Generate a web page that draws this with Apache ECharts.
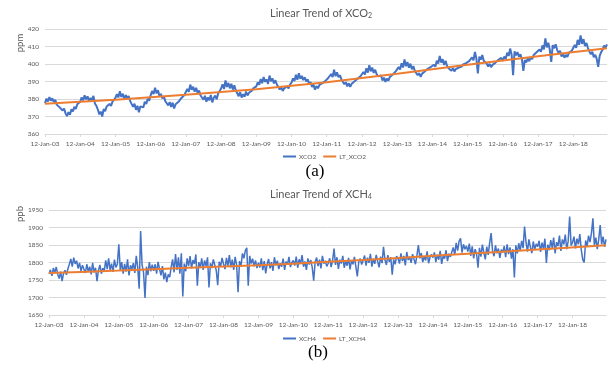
<!DOCTYPE html>
<html>
<head>
<meta charset="utf-8">
<script src="https://cdn.jsdelivr.net/npm/echarts@6/dist/echarts.min.js"></script>
<style>
html,body{margin:0;padding:0;background:#fff;}
#chart{width:614px;height:369px;}
</style>
</head>
<body>
<div id="chart"></div>
<script>
// tick labels (one per year, 24 samples per year)
const yearLabels = ['12-Jan-03','12-Jan-04','12-Jan-05','12-Jan-06','12-Jan-07','12-Jan-08','12-Jan-09','12-Jan-10',
  '12-Jan-11','12-Jan-12','12-Jan-13','12-Jan-14','12-Jan-15','12-Jan-16','12-Jan-17','12-Jan-18'];
const perYear = 24;

// XCO2 (ppm), half-monthly samples
const xco2 = [
377.5,380.2,378.6,381.1,379.0,380.4,378.2,379.5,376.8,377.9,375.2,376.0,373.4,374.6,371.8,370.2,372.5,371.0,374.1,372.9,375.6,374.3,377.0,376.2,
378.4,380.9,379.2,382.1,379.8,381.5,378.7,380.6,379.3,381.8,377.4,376.1,374.0,371.2,372.8,370.0,374.3,373.1,375.7,374.6,377.2,376.0,378.5,377.4,
380.6,382.8,380.9,384.4,381.2,383.0,379.8,382.3,380.5,381.7,378.9,377.2,375.6,377.3,373.8,376.1,372.4,375.8,376.9,375.2,378.4,377.1,380.2,379.0,
382.1,384.6,382.8,386.5,383.2,385.0,381.6,382.9,380.3,381.5,378.7,379.6,376.4,378.2,375.5,377.9,374.6,377.0,376.2,378.4,379.1,380.6,380.0,382.3,
383.4,385.8,384.1,388.2,385.3,387.0,384.2,386.4,383.5,384.8,382.0,383.1,379.6,381.8,378.4,380.9,379.2,382.3,378.1,380.7,381.9,379.8,383.2,384.5,
386.0,388.4,385.7,390.6,386.9,389.2,386.1,388.7,385.4,387.8,385.0,384.1,381.6,383.9,380.8,382.7,381.3,384.2,382.0,383.6,382.9,384.8,386.1,385.3,
387.2,389.5,388.1,391.4,389.0,392.6,389.8,391.2,388.6,393.4,390.1,391.8,388.9,390.7,388.3,387.0,385.4,386.8,384.6,386.1,385.2,387.3,386.0,388.2,
389.4,391.8,390.2,393.9,391.0,394.7,391.6,393.2,390.8,392.4,390.0,391.3,388.5,389.7,386.9,388.2,385.3,387.4,386.1,388.0,387.2,389.1,388.4,390.2,
389.8,392.0,391.1,394.3,392.5,396.8,393.0,395.2,392.4,393.6,391.2,390.1,388.4,389.6,387.2,389.0,386.9,388.7,387.8,390.2,389.5,391.6,390.8,393.0,
392.8,395.4,394.0,397.6,395.1,399.3,395.8,398.0,394.9,396.7,394.2,393.0,392.1,393.4,390.6,392.2,389.8,391.7,390.4,392.6,391.9,394.0,393.5,395.8,
395.6,398.2,396.9,400.4,398.0,402.6,398.7,401.1,397.9,400.2,397.0,398.8,396.1,395.0,393.6,394.8,392.7,394.5,393.8,395.9,395.2,397.4,396.6,398.3,
397.5,399.6,398.4,401.9,400.2,404.6,400.8,402.7,399.5,401.8,398.9,397.6,398.4,396.2,397.7,395.8,397.1,396.4,398.0,396.9,398.6,399.8,399.1,400.5,
399.4,401.6,400.5,403.8,402.1,406.9,403.0,394.6,404.2,402.5,405.1,401.8,402.6,400.3,398.6,400.1,398.2,399.5,398.9,400.8,400.0,402.4,401.6,403.5,
401.8,404.2,403.0,406.5,404.6,408.8,405.3,393.6,407.2,405.0,406.8,404.1,405.5,402.8,396.1,402.3,400.9,403.2,401.6,403.9,402.7,405.1,404.4,406.7,
405.8,408.3,407.0,410.6,408.4,414.6,409.5,412.1,408.2,401.2,410.8,409.0,411.3,408.1,406.2,407.5,404.3,406.1,403.6,405.2,404.0,406.4,405.3,407.6,
408.4,410.9,409.2,413.8,411.0,416.3,411.5,414.2,410.3,412.0,409.1,407.2,405.6,407.0,403.8,405.3,402.9,398.4,404.6,406.8,408.1,410.6,409.3,411.2
];

// XCH4 (ppb), half-monthly samples
const xch4 = [
1768,1779,1762,1784,1771,1787,1766,1754,1774,1747,1769,1778,1765,1782,1795,1810,1788,1814,1796,1805,1783,1799,1776,1792,
1781,1770,1795,1774,1788,1766,1799,1772,1785,1747,1778,1793,1768,1784,1776,1806,1781,1812,1778,1797,1773,1808,1786,1795,
1852,1779,1801,1768,1796,1774,1809,1763,1792,1781,1798,1770,1819,1786,1725,1890,1793,1772,1699,1788,1764,1801,1775,1794,
1776,1795,1768,1802,1781,1763,1790,1752,1771,1744,1766,1758,1787,1809,1772,1824,1779,1815,1768,1826,1703,1797,1775,1812,
1790,1818,1783,1807,1796,1823,1734,1801,1785,1812,1779,1806,1790,1815,1729,1798,1784,1809,1793,1778,1735,1802,1788,1813,
1796,1781,1813,1790,1821,1786,1808,1779,1816,1793,1715,1804,1788,1826,1812,1834,1842,1734,1819,1797,1811,1789,1806,1784,
1799,1786,1812,1778,1804,1769,1795,1810,1783,1801,1776,1815,1792,1805,1781,1798,1788,1811,1779,1803,1794,1816,1787,1800,
1806,1791,1817,1785,1809,1796,1821,1788,1803,1779,1812,1794,1807,1786,1748,1801,1814,1790,1808,1783,1819,1797,1805,1789,
1798,1812,1787,1806,1840,1793,1815,1782,1808,1797,1819,1785,1804,1791,1813,1780,1806,1795,1816,1788,1760,1802,1811,1794,
1805,1820,1791,1814,1799,1825,1788,1810,1796,1822,1803,1786,1817,1798,1845,1808,1793,1821,1802,1815,1765,1809,1795,1818,
1811,1797,1826,1804,1819,1792,1830,1807,1816,1799,1824,1809,1795,1821,1850,1812,1827,1801,1818,1806,1832,1798,1815,1823,
1814,1829,1801,1822,1808,1833,1796,1819,1811,1835,1804,1825,1816,1830,1843,1822,1856,1834,1861,1869,1828,1852,1838,1847,
1831,1854,1819,1846,1812,1838,1825,1785,1842,1817,1851,1828,1809,1845,1822,1856,1884,1833,1818,1849,1826,1840,1813,1837,
1829,1847,1815,1852,1824,1843,1811,1838,1757,1849,1826,1855,1834,1862,1841,1903,1858,1831,1866,1844,1827,1860,1837,1853,
1845,1862,1830,1857,1839,1868,1799,1851,1835,1864,1842,1871,1826,1858,1847,1877,1833,1866,1852,1880,1838,1861,1931,1849,
1857,1874,1840,1868,1852,1881,1836,1808,1800,1863,1845,1877,1858,1884,1926,1849,1871,1838,1866,1907,1852,1874,1845,1866
];

// trend knots (years after 12-Jan-03)
const trendYears = [0, 2, 4, 6, 8, 10, 12, 14, 16];
const ltXco2 = [377.3, 379.6, 382.4, 385.6, 389.6, 394.4, 399.6, 404.4, 409.0];
const ltXch4 = [1770, 1777, 1785, 1792, 1802, 1813, 1825, 1837, 1849];

const N = xco2.length;
const cats = [];
for (let i = 0; i < N; i++) cats.push(String(i));
const knot = (vals) => trendYears.map((y, k) => [Math.min(y * perYear, N - 1), vals[k]]);

const TXT = '#595959';
const GRID = '#D9D9D9';
const FONT = 'Lato';
const showIdx = (idx) => idx % perYear === 0;

function xAxisCfg(gi) {
  return {
    type: 'category', gridIndex: gi, data: cats, boundaryGap: false,
    axisLine: { lineStyle: { color: GRID, width: 1 } },
    axisTick: { show: true, interval: showIdx, length: 3, lineStyle: { color: GRID } },
    axisLabel: { interval: showIdx, formatter: (v, idx) => yearLabels[idx / perYear] || '',
      fontSize: 6.5, color: TXT, fontFamily: FONT, margin: 6 },
    splitLine: { show: false }
  };
}
function yAxisCfg(gi, mn, mx, iv) {
  return {
    type: 'value', gridIndex: gi, min: mn, max: mx, interval: iv,
    axisLine: { show: false }, axisTick: { show: false },
    axisLabel: { fontSize: 6.5, color: TXT, fontFamily: FONT, margin: 6, formatter: (v) => String(v) },
    splitLine: { lineStyle: { color: GRID, width: 1 } }
  };
}

const chart = echarts.init(document.getElementById('chart'), null, { renderer: 'canvas' });
chart.setOption({
  animation: false,
  backgroundColor: '#fff',
  title: [
    { text: 'Linear Trend of XCO{s|2}', left: 270, top: 7, padding: 0,
      textStyle: { fontSize: 11, fontWeight: 'normal', color: TXT, fontFamily: FONT,
        rich: { s: { fontSize: 7, color: TXT, fontFamily: FONT, padding: [5, 0, 0, 0] } } } },
    { text: 'Linear Trend of XCH{s|4}', left: 270, top: 188, padding: 0,
      textStyle: { fontSize: 11, fontWeight: 'normal', color: TXT, fontFamily: FONT,
        rich: { s: { fontSize: 7, color: TXT, fontFamily: FONT, padding: [5, 0, 0, 0] } } } }
  ],
  legend: [
    { data: ['XCO2', 'LT_XCO2'], left: 283, top: 153, padding: 0, icon: 'rect', itemWidth: 13, itemHeight: 2,
      itemGap: 7, textStyle: { fontSize: 6.5, color: TXT, fontFamily: FONT, padding: [0, 0, 0, -2] } },
    { data: ['XCH4', 'LT_XCH4'], left: 283, top: 335, padding: 0, icon: 'rect', itemWidth: 13, itemHeight: 2,
      itemGap: 7, textStyle: { fontSize: 6.5, color: TXT, fontFamily: FONT, padding: [0, 0, 0, -2] } }
  ],
  grid: [
    { left: 45, right: 7, top: 29, height: 105 },
    { left: 49, right: 8, top: 210, height: 105 }
  ],
  xAxis: [xAxisCfg(0), xAxisCfg(1)],
  yAxis: [yAxisCfg(0, 360, 420, 10), yAxisCfg(1, 1650, 1950, 50)],
  graphic: [
    { type: 'text', x: 20, y: 43, rotation: Math.PI / 2,
      style: { text: 'ppm', fill: TXT, font: '9.5px Lato', align: 'center', verticalAlign: 'middle' } },
    { type: 'text', x: 20, y: 214, rotation: Math.PI / 2,
      style: { text: 'ppb', fill: TXT, font: '9.5px Lato', align: 'center', verticalAlign: 'middle' } },
    { type: 'text', x: 315, y: 172,
      style: { text: '(a)', fill: '#000', font: '17px "Liberation Serif"', align: 'center', verticalAlign: 'middle' } },
    { type: 'text', x: 318, y: 353,
      style: { text: '(b)', fill: '#000', font: '17px "Liberation Serif"', align: 'center', verticalAlign: 'middle' } }
  ],
  series: [
    { name: 'XCO2', type: 'line', xAxisIndex: 0, yAxisIndex: 0, data: xco2, showSymbol: false,
      color: '#4472C4', lineStyle: { width: 2, color: '#4472C4' }, z: 2 },
    { name: 'LT_XCO2', type: 'line', xAxisIndex: 0, yAxisIndex: 0, data: knot(ltXco2), showSymbol: false,
      smooth: 0.3, color: '#ED7D31', lineStyle: { width: 2, color: '#ED7D31' }, z: 3 },
    { name: 'XCH4', type: 'line', xAxisIndex: 1, yAxisIndex: 1, data: xch4, showSymbol: false,
      color: '#4472C4', lineStyle: { width: 1.5, color: '#4472C4' }, z: 2 },
    { name: 'LT_XCH4', type: 'line', xAxisIndex: 1, yAxisIndex: 1, data: knot(ltXch4), showSymbol: false,
      smooth: 0.3, color: '#ED7D31', lineStyle: { width: 2, color: '#ED7D31' }, z: 3 }
  ]
});
</script>
</body>
</html>
